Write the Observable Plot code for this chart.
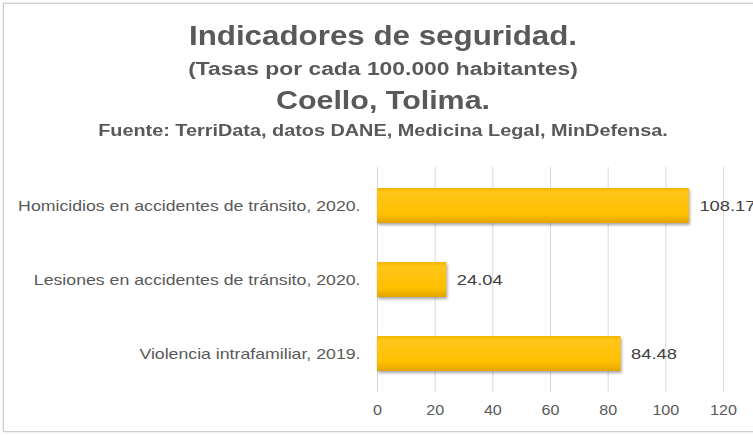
<!DOCTYPE html>
<html>
<head>
<meta charset="utf-8">
<script src="https://cdn.jsdelivr.net/npm/d3@7"></script>
<script src="https://cdn.jsdelivr.net/npm/@observablehq/plot@0.6"></script>
<style>
  html, body { margin: 0; padding: 0; background: #fff; }
  #wrap { position: relative; width: 753px; height: 435px; overflow: hidden; font-family: "Liberation Sans", Arial, sans-serif; }
  #frame { position: absolute; left: 3px; top: 3px; width: 770px; height: 429px; border: 1px solid #cfcfcf; box-shadow: 0 0 2px rgba(0,0,0,0.18); box-sizing: border-box; }
  .t { position: absolute; left: 0; width: 766px; text-align: center; font-weight: bold; color: #595959; line-height: 1.117; white-space: nowrap; transform-origin: 383px 0; }
  #chart { position: absolute; left: 0; top: 150px; }
</style>
</head>
<body>
<div id="wrap">
  <div id="frame"></div>
  <div class="t" style="top:21px;font-size:27px;transform:scaleX(1.16);">Indicadores de seguridad.</div>
  <div class="t" style="top:59px;font-size:18px;transform:scaleX(1.27);">(Tasas por cada 100.000 habitantes)</div>
  <div class="t" style="top:86px;font-size:26px;transform:scaleX(1.17);">Coello, Tolima.</div>
  <div class="t" style="top:122px;font-size:16px;transform:scaleX(1.24);">Fuente: TerriData, datos DANE, Medicina Legal, MinDefensa.</div>
  <div id="chart"></div>
</div>
<script>
const categories = [
  "Homicidios en accidentes de tránsito, 2020.",
  "Lesiones en accidentes de tránsito, 2020.",
  "Violencia intrafamiliar, 2019."
];
const values = [108.17, 24.04, 84.48];
const xTicks = [0, 20, 40, 60, 80, 100, 120];

const data = categories.map((c, i) => ({category: c, value: values[i]}));

const plot = Plot.plot({
  width: 753,
  height: 280,
  marginTop: 17,
  marginBottom: 38,
  marginLeft: 377,
  marginRight: 30,
  style: {fontFamily: '"Liberation Sans", Arial, sans-serif', background: "transparent", overflow: "visible"},
  x: {domain: [0, 120]},
  y: {domain: categories, paddingInner: 0.533, paddingOuter: 0.267},
  marks: [
    Plot.gridX(xTicks, {stroke: "#d9d9d9", strokeOpacity: 1, strokeWidth: 1}),
    Plot.axisX(xTicks, {tickSize: 0, tickPadding: 13, fontSize: 14, fill: "#595959", label: null, tickFormat: d => d}),
    Plot.axisY({tickSize: 0, tickPadding: 17, fontSize: 15, fill: "#595959", label: null}),
    Plot.barX(data, {x: "value", y: "category", fill: "url(#gold)"}),
    Plot.text(data, {x: "value", y: "category", text: d => d.value.toFixed(2), dx: 10, textAnchor: "start", fontSize: 15, fill: "#404040"})
  ]
});

plot.insertAdjacentHTML("afterbegin", `<defs>
  <linearGradient id="gold" x1="0" y1="0" x2="0" y2="1">
    <stop offset="0" stop-color="#F2B400"/>
    <stop offset="0.12" stop-color="#FFC61A"/>
    <stop offset="0.75" stop-color="#FFC000"/>
    <stop offset="1" stop-color="#E2A400"/>
  </linearGradient>
</defs>`);
plot.querySelectorAll('g[aria-label="bar"]').forEach(g => {
  g.style.filter = "drop-shadow(1px 2px 1.5px rgba(0,0,0,0.35))";
});

document.getElementById("chart").appendChild(plot);

// the reference is horizontally stretched; widen glyphs to match
function stretch(selector, f) {
  plot.querySelectorAll(selector).forEach(t => {
    const w = t.getComputedTextLength();
    t.setAttribute("textLength", (w * f).toFixed(1));
    t.setAttribute("lengthAdjust", "spacingAndGlyphs");
  });
}
stretch('g[aria-label="y-axis tick label"] text', 1.18);
stretch('g[aria-label="x-axis tick label"] text', 1.15);
stretch('g[aria-label="text"] text', 1.22);
</script>
</body>
</html>
